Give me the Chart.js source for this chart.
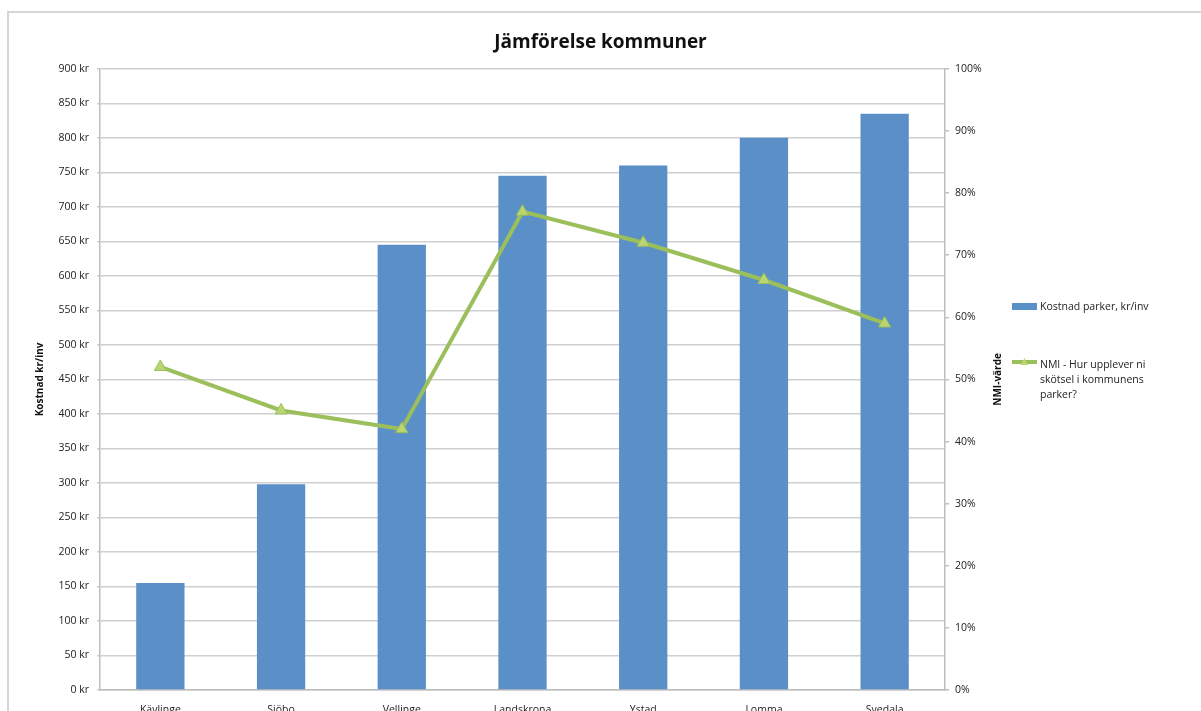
<!DOCTYPE html>
<html>
<head>
<meta charset="utf-8">
<script src="https://cdn.jsdelivr.net/npm/chart.js@4.4.1/dist/chart.umd.min.js"></script>
<style>
  html, body { margin: 0; padding: 0; background: #fff; overflow: hidden; }
  #frame { position: absolute; left: 7px; top: 11px; width: 1220px; height: 730px; border: 2px solid #d6d6d6; }
  #wrap { position: absolute; left: 0; top: 0; width: 1201px; height: 711px; }
</style>
</head>
<body>
<div id="frame"></div>
<div id="wrap"><canvas id="chart"></canvas></div>
<script>
// Jämförelse kommuner — kostnad parker vs NMI

Chart.defaults.font.family = '"Open Sans", sans-serif';
Chart.defaults.font.size = 10.5;
Chart.defaults.color = '#222';

const kommuner = ['Kävlinge', 'Sjöbo', 'Vellinge', 'Landskrona', 'Ystad', 'Lomma', 'Svedala'];
const kostnad = [155, 298, 645, 745, 760, 800, 835];
const nmi = [0.52, 0.45, 0.42, 0.77, 0.72, 0.66, 0.59];
const krTicks = { min: 0, max: 900, step: 50 };
const pctTicks = { min: 0, max: 1, step: 0.1 };

const blue = '#5b8fc7';
const green = '#9bbf5a';

// right-hand legend + rotated NMI title drawn on the canvas
const sidePlugin = {
  id: 'side',
  afterDraw(chart) {
    const ctx = chart.ctx;
    const area = chart.chartArea;
    ctx.save();
    // axis title on the right, reading bottom to top
    ctx.font = 'bold 10px "Open Sans", sans-serif';
    ctx.fillStyle = '#111';
    ctx.textAlign = 'center';
    ctx.textBaseline = 'middle';
    ctx.translate(998, (area.top + area.bottom) / 2);
    ctx.rotate(-Math.PI / 2);
    ctx.fillText('NMI-värde', 0, 0);
    ctx.restore();

    ctx.save();
    ctx.font = '10.5px "Open Sans", sans-serif';
    ctx.textBaseline = 'middle';
    ctx.fillStyle = blue;
    ctx.fillRect(1012, 303, 25, 7);
    ctx.fillStyle = '#222';
    ctx.fillText('Kostnad parker, kr/inv', 1040, 307);

    ctx.strokeStyle = green;
    ctx.lineWidth = 4;
    ctx.beginPath();
    ctx.moveTo(1012, 362);
    ctx.lineTo(1037, 362);
    ctx.stroke();
    ctx.fillStyle = '#b9d673';
    ctx.beginPath();
    ctx.moveTo(1024.5, 358);
    ctx.lineTo(1028.5, 365);
    ctx.lineTo(1020.5, 365);
    ctx.closePath();
    ctx.fill();
    ctx.fillStyle = '#222';
    ['NMI - Hur upplever ni', 'skötsel i kommunens', 'parker?'].forEach((t, i) => {
      ctx.fillText(t, 1040, 365 + i * 15);
    });
    ctx.restore();
  }
};

new Chart(document.getElementById('chart'), {
  type: 'bar',
  data: {
    labels: kommuner,
    datasets: [
      {
        type: 'line',
        label: 'NMI - Hur upplever ni skötsel i kommunens parker?',
        data: nmi,
        yAxisID: 'y1',
        borderColor: green,
        borderWidth: 4,
        pointStyle: 'triangle',
        pointRadius: 7,
        pointBackgroundColor: '#b9d673',
        pointBorderColor: green,
        pointBorderWidth: 1,
        tension: 0,
        order: 0
      },
      {
        label: 'Kostnad parker, kr/inv',
        data: kostnad,
        yAxisID: 'y',
        backgroundColor: blue,
        categoryPercentage: 1,
        barPercentage: 0.4,
        order: 1
      }
    ]
  },
  options: {
    responsive: true,
    maintainAspectRatio: false,
    animation: false,
    layout: { padding: 0 },
    plugins: {
      legend: { display: false },
      tooltip: { enabled: false },
      title: {
        display: true,
        text: 'Jämförelse kommuner',
        color: '#111',
        font: { size: 19, weight: 'bold' },
        padding: { top: 31, bottom: 15 }
      }
    },
    scales: {
      x: {
        grid: { display: false },
        border: { color: '#bdbdbd', width: 1.5 },
        ticks: { padding: 6, font: { size: 10.5 }, maxRotation: 0 },
        afterFit: s => { s.height = 21; }
      },
      y: {
        position: 'left',
        min: krTicks.min,
        max: krTicks.max,
        ticks: { stepSize: krTicks.step, padding: 8, callback: v => v + ' kr' },
        grid: { color: '#cfcfcf', lineWidth: 1.5, tickLength: 3 },
        border: { color: '#bdbdbd', width: 1.5 },
        title: {
          display: true,
          text: 'Kostnad kr/inv',
          color: '#111',
          font: { size: 10, weight: 'bold' },
          padding: { top: 34, bottom: 0 }
        },
        afterFit: s => { s.width = 100; }
      },
      y1: {
        position: 'right',
        min: pctTicks.min,
        max: pctTicks.max,
        ticks: { stepSize: pctTicks.step, padding: 6, callback: v => Math.round(v * 100) + '%' },
        grid: { drawOnChartArea: false, color: '#bdbdbd', lineWidth: 1.5, tickLength: 4 },
        border: { color: '#bdbdbd', width: 1.5 },
        afterFit: s => { s.width = 256; }
      }
    }
  },
  plugins: [sidePlugin]
});
</script>
</body>
</html>
